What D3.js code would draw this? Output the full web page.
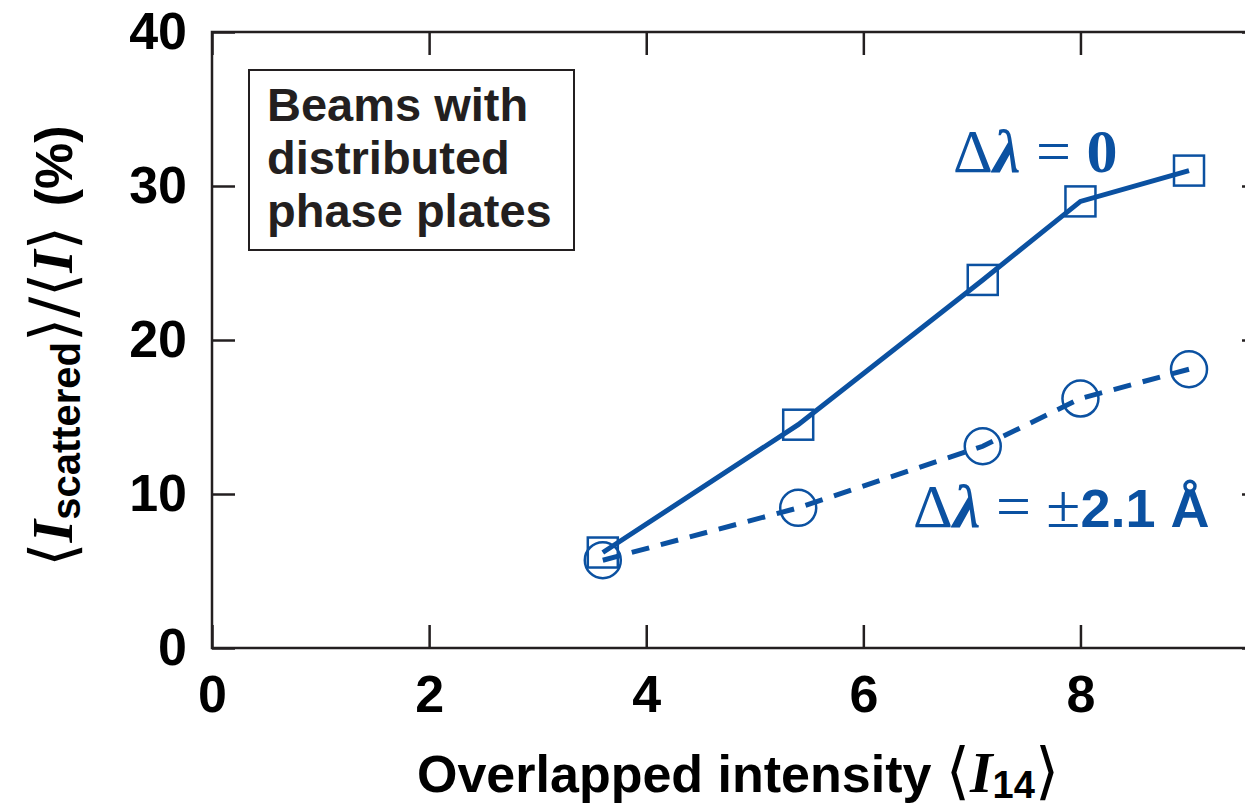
<!DOCTYPE html>
<html><head>
<meta charset="utf-8">
<script src="https://d3js.org/d3.v7.min.js"></script>
<style>
  body { margin: 0; background: #fff; }
  svg { display: block; }
  .axis text { font-family: "Liberation Sans", Arial, sans-serif; font-weight: bold; font-size: 52px; fill: #000; }
  .axis line { stroke: #231f20; stroke-width: 2.5px; }
  .axis path { display: none; }
  .sans { font-family: "Liberation Sans", Arial, sans-serif; font-weight: bold; }
  .serif { font-family: "Liberation Serif", "Times New Roman", serif; }
  .brk { font-family: "DejaVu Sans", sans-serif; font-weight: normal; }
</style>
</head>
<body>
<svg id="chart" width="1245" height="808"></svg>
<script>
  // values
  const intensity = [3.6, 5.4, 7.1, 8.0, 9.0];
  const scatterNoShift = [6.2, 14.5, 23.9, 29.0, 31.0];     // delta lambda = 0
  const scatterShifted = [5.7, 9.1, 13.1, 16.2, 18.1];      // delta lambda = +-2.1 A
  const xTicks = [0, 2, 4, 6, 8];
  const yTicks = [0, 10, 20, 30, 40];
  const legendLines = ["Beams with", "distributed", "phase plates"];

  const blue = "#0b51a1";
  const svg = d3.select("#chart");
  const margin = { top: 32, left: 212 };
  const plotW = 1053, plotH = 616;

  const x = d3.scaleLinear().domain([0, 9.7]).range([0, plotW]);
  const y = d3.scaleLinear().domain([0, 40]).range([plotH, 0]);

  const g = svg.append("g").attr("transform", "translate(" + margin.left + "," + margin.top + ")");

  // axes with ticks pointing inward on all four sides
  g.append("g").attr("class", "axis").attr("transform", "translate(0," + plotH + ")")
    .call(d3.axisBottom(x).tickValues(xTicks).tickSize(-23).tickPadding(27).tickFormat(d3.format("d")));
  g.append("g").attr("class", "axis")
    .call(d3.axisLeft(y).tickValues(yTicks).tickSize(-23).tickPadding(25).tickFormat(d3.format("d")));
  g.append("g").attr("class", "axis")
    .call(d3.axisTop(x).tickValues(xTicks).tickSize(-23).tickFormat(""));
  g.append("g").attr("class", "axis").attr("transform", "translate(" + plotW + ",0)")
    .call(d3.axisRight(y).tickValues(yTicks).tickSize(-23).tickFormat(""));

  g.append("rect").attr("width", plotW).attr("height", plotH)
    .attr("fill", "none").attr("stroke", "#231f20").attr("stroke-width", 2.5);

  const noShift = intensity.map((v, i) => ({ x: v, y: scatterNoShift[i] }));
  const shifted = intensity.map((v, i) => ({ x: v, y: scatterShifted[i] }));
  const line = d3.line().x(d => x(d.x)).y(d => y(d.y));

  g.append("path").datum(noShift).attr("d", line)
    .attr("fill", "none").attr("stroke", blue).attr("stroke-width", 5);
  g.append("path").datum(shifted).attr("d", line)
    .attr("fill", "none").attr("stroke", blue).attr("stroke-width", 5)
    .attr("stroke-dasharray", "18,12");

  const sq = 30;
  g.selectAll("rect.mk").data(noShift).join("rect").attr("class", "mk")
    .attr("x", d => x(d.x) - sq / 2).attr("y", d => y(d.y) - sq / 2)
    .attr("width", sq).attr("height", sq)
    .attr("fill", "none").attr("stroke", blue).attr("stroke-width", 2.5);
  g.selectAll("circle.mk").data(shifted).join("circle").attr("class", "mk")
    .attr("cx", d => x(d.x)).attr("cy", d => y(d.y)).attr("r", 18)
    .attr("fill", "none").attr("stroke", blue).attr("stroke-width", 2.5);

  // legend box
  svg.append("rect").attr("x", 249).attr("y", 70).attr("width", 325).attr("height", 180)
    .attr("fill", "#fff").attr("stroke", "#231f20").attr("stroke-width", 2);
  svg.append("g").selectAll("text").data(legendLines).join("text")
    .attr("class", "sans").attr("x", 267).attr("y", (d, i) => 121 + i * 53)
    .attr("font-size", 47).attr("fill", "#231f20").text(d => d);

  // series labels
  const lab1 = svg.append("text").attr("x", 953).attr("y", 172).attr("fill", blue).attr("font-size", 62);
  lab1.append("tspan").attr("class", "serif").text("Δ");
  lab1.append("tspan").attr("class", "serif").attr("font-weight", "bold").attr("font-style", "italic").text("λ");
  lab1.append("tspan").attr("class", "serif").text(" = ");
  lab1.append("tspan").attr("class", "serif").attr("font-weight", "bold").text("0");

  const lab2 = svg.append("text").attr("x", 913).attr("y", 527).attr("fill", blue).attr("font-size", 62);
  lab2.append("tspan").attr("class", "serif").text("Δ");
  lab2.append("tspan").attr("class", "serif").attr("font-weight", "bold").attr("font-style", "italic").text("λ");
  lab2.append("tspan").attr("class", "serif").text(" = ±");
  lab2.append("tspan").attr("class", "sans").attr("font-size", 54).text("2.1 Å");

  // x axis title
  const xt = svg.append("text").attr("x", 417).attr("y", 792).attr("fill", "#000");
  xt.append("tspan").attr("class", "sans").attr("font-size", 52).text("Overlapped intensity ");
  xt.append("tspan").attr("class", "brk").attr("font-size", 62).text("⟨");
  xt.append("tspan").attr("class", "serif").attr("font-weight", "bold").attr("font-style", "italic").attr("font-size", 58).text("I");
  xt.append("tspan").attr("class", "sans").attr("font-size", 38).attr("dy", 6).text("14");
  xt.append("tspan").attr("class", "brk").attr("font-size", 62).attr("dy", -6).text("⟩");

  // y axis title
  const yt = svg.append("text").attr("transform", "translate(72,346) rotate(-90)")
    .attr("text-anchor", "middle").attr("fill", "#000");
  yt.append("tspan").attr("class", "brk").attr("font-size", 62).attr("dy", 2).text("⟨");
  yt.append("tspan").attr("class", "serif").attr("font-weight", "bold").attr("font-style", "italic").attr("font-size", 58).attr("dy", -2).text("I");
  yt.append("tspan").attr("class", "sans").attr("font-size", 40).attr("dy", 8).text("scattered");
  yt.append("tspan").attr("class", "brk").attr("font-size", 62).attr("dy", -6).text("⟩/⟨");
  yt.append("tspan").attr("class", "serif").attr("font-weight", "bold").attr("font-style", "italic").attr("font-size", 58).attr("dy", -2).text("I");
  yt.append("tspan").attr("class", "brk").attr("font-size", 62).attr("dy", 2).text("⟩ ");
  yt.append("tspan").attr("class", "sans").attr("font-size", 52).attr("dy", -2).text("(%)");
</script>
</body></html>
